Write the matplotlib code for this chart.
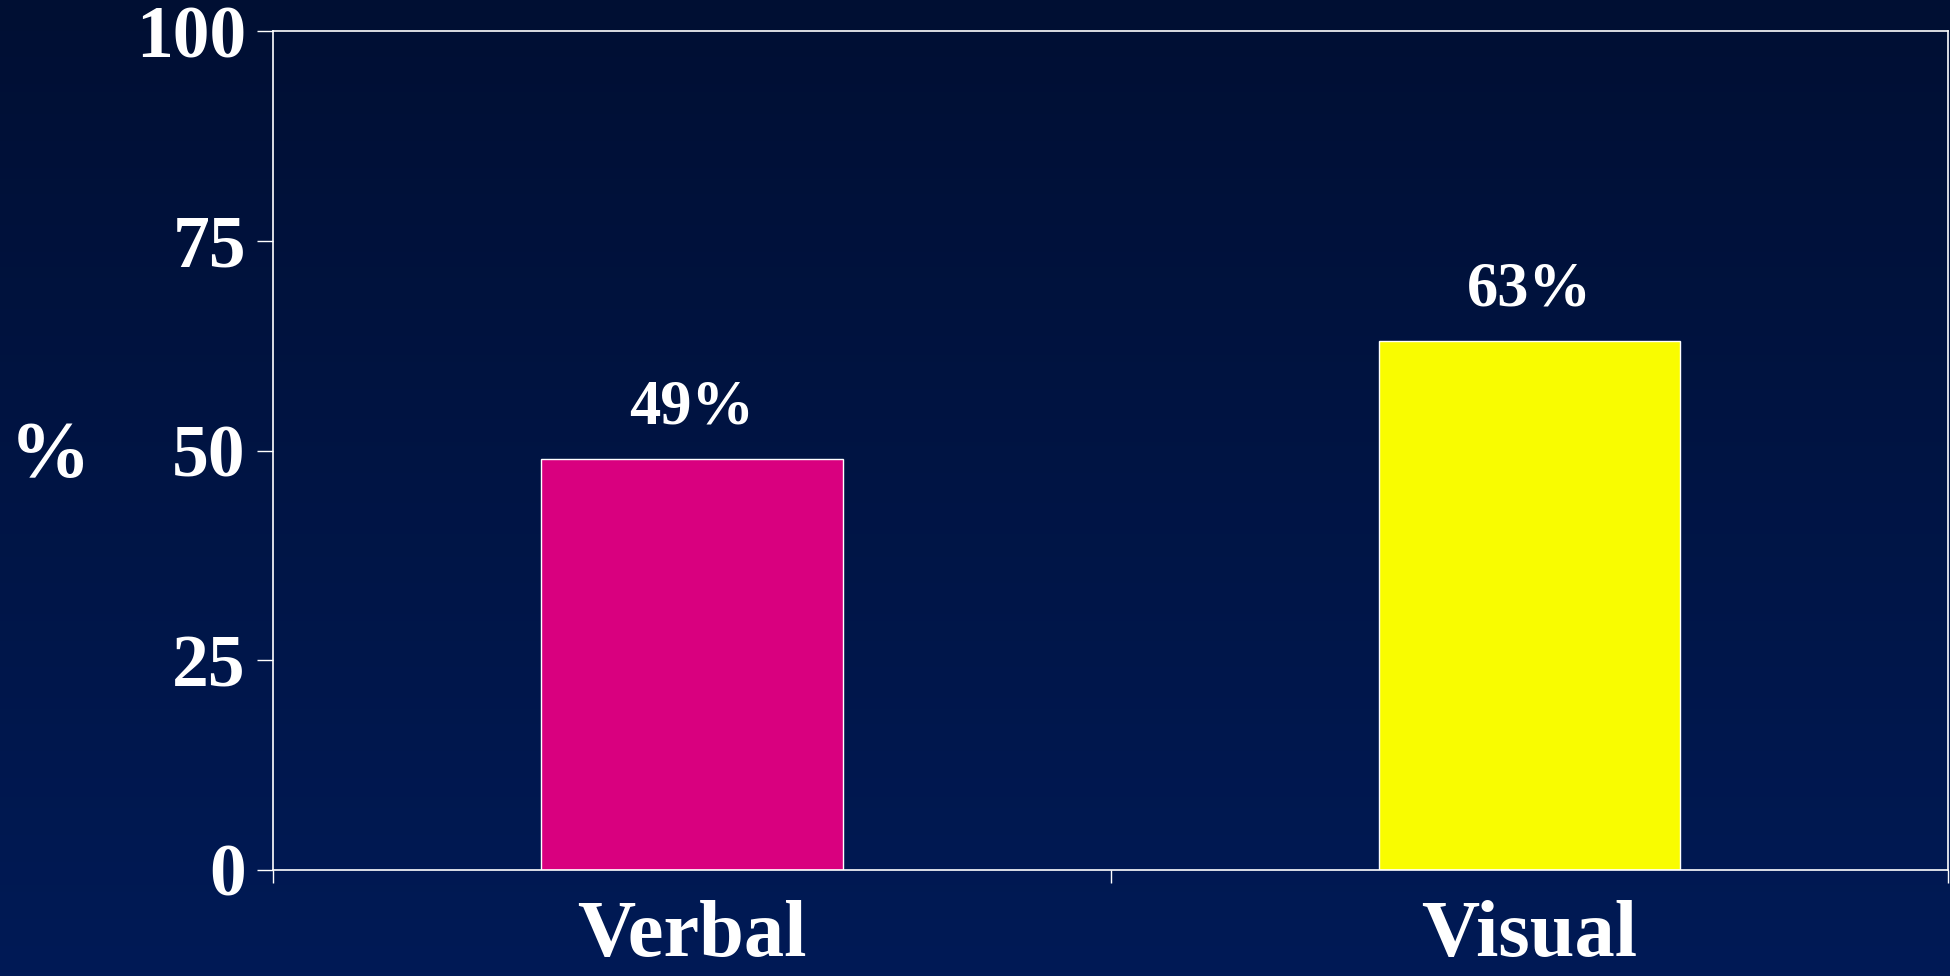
import matplotlib
matplotlib.use('Agg')
import numpy as np
import matplotlib.pyplot as plt
from matplotlib.colors import LinearSegmentedColormap

categories = ["Verbal", "Visual"]
values = [49, 63]
bar_colors = ["#d9007f", "#f9fc00"]
yticks = [0, 25, 50, 75, 100]

plt.rcParams['font.family'] = ['Liberation Serif', 'DejaVu Serif']
plt.rcParams['font.weight'] = 'bold'

fig = plt.figure(figsize=(19.5, 9.76), dpi=100)

# background gradient, darker at the top
bg = fig.add_axes([0, 0, 1, 1], zorder=-10)
grad = LinearSegmentedColormap.from_list('bg', ['#001a56', '#000f33'])
bg.imshow(np.linspace(0, 1, 256).reshape(-1, 1), aspect='auto', cmap=grad,
          origin='lower', extent=[0, 1, 0, 1])
bg.axis('off')

ax = fig.add_axes([273 / 1950, 1 - 870 / 976, 1675 / 1950, 839 / 976])
ax.patch.set_alpha(0)

x = np.arange(len(categories)) + 0.5
ax.bar(x, values, width=0.36, color=bar_colors, edgecolor='white', linewidth=1)

for xi, v in zip(x, values):
    ax.text(xi, v + 2.6, f"{v}%", ha='center', va='bottom', color='white',
            fontsize=45, fontweight='bold')

ax.set_xlim(0, 2)
ax.set_ylim(0, 100)
ax.set_yticks(yticks)
ax.set_yticklabels([str(t) for t in yticks])
ax.set_xticks([0, 1, 2])
ax.set_xticklabels([])

for s in ax.spines.values():
    s.set_color('white')
    s.set_linewidth(1.2)

ax.tick_params(axis='y', direction='out', length=11.5, width=1, colors='white',
               labelsize=53, pad=8)
ax.tick_params(axis='x', direction='out', length=9, width=1, colors='white')

for xi, c in zip(x, categories):
    ax.text(xi, -0.1025, c, transform=ax.get_xaxis_transform(), ha='center',
            va='baseline', color='white', fontsize=58, fontweight='bold')

fig.text(50 / 1950, 1 - 458 / 976, "%", ha='center', va='center', color='white',
         fontsize=58, fontweight='bold')

fig.savefig('out.png', dpi=100)
